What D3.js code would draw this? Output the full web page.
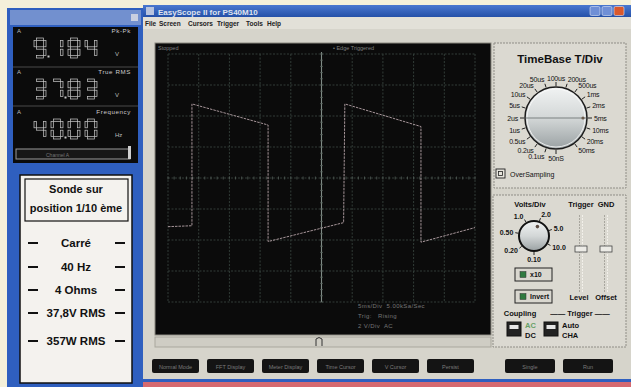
<!DOCTYPE html>
<html>
<head>
<meta charset="utf-8">
<script src="https://cdn.jsdelivr.net/npm/d3@7"></script>
<style>
	body { margin: 0; background: #f4f0da; }
	text { font-family: "Liberation Sans", Arial, sans-serif; }
</style>
</head>
<body>
<div id="scope"></div>
<script>
// waveform (5 ms/div, 2 V/div)
var traceTime = [0, 3.9, 3.9, 16.3, 16.3, 28.6, 28.8, 41.2, 41.2, 50];
var traceVolt = [-3.14, -3.08, 4.78, 3.42, -4.1, -2.88, 4.78, 3.32, -4.14, -3.2];

var meterNames = ["Pk-Pk", "True RMS", "Frequency"];
var meterValues = ["9.184", "37.83", "40.00"];
var meterUnits = ["V", "V", "Hz"];

var timebaseLabels = ["50nS", "0.1us", "0.2us", "0.5us", "1us", "2us", "5us", "10us", "20us", "50us",
	"100us", "200us", "500us", "1ms", "2ms", "5ms", "10ms", "20ms", "50ms"];
var timebaseValue = "5ms";
var voltsLabels = ["0.10", "0.20", "0.50", "1.0", "2.0", "5.0", "10.0"];
var voltsValue = "2.0";

var menuItems = ["File", "Screen", "Cursors", "Trigger", "Tools", "Help"];
var buttonLabels = ["Normal Mode", "FFT Display", "Meter Display", "Time Cursor", "V Cursor", "Persist", "Single", "Run"];
var noteTitle = ["Sonde sur", "position 1/10 ème"];
var noteLines = ["Carré", "40 Hz", "4 Ohms", "37,8V RMS", "357W RMS"];
var screenInfo = ["5ms/Div  5.00kSa/Sec", "Trig:   Rising", "2 V/Div  AC"];

function draw() {
	var width = 631
	var height = 387
	var blue = "#2f5fbf"
	var panel = "#d6d4cb"

	var svg = d3.select("#scope")
		.append("svg")
		.attr("width", width)
		.attr("height", height);

	var defs = svg.append("defs");
	var grad = defs.append("linearGradient")
		.attr("id", "knob")
		.attr("x1", 0).attr("y1", 0).attr("x2", 0).attr("y2", 1);
	grad.append("stop").attr("offset", "0%").attr("stop-color", "#f1f3f3");
	grad.append("stop").attr("offset", "50%").attr("stop-color", "#d3d7d7");
	grad.append("stop").attr("offset", "100%").attr("stop-color", "#9aa1a3");
	var tgrad = defs.append("linearGradient")
		.attr("id", "title")
		.attr("x1", 0).attr("y1", 0).attr("x2", 0).attr("y2", 1);
	tgrad.append("stop").attr("offset", "0%").attr("stop-color", "#4a78d0");
	tgrad.append("stop").attr("offset", "100%").attr("stop-color", "#2450a8");

	// ---------- left window ----------
	svg.append("rect").attr("x", 7).attr("y", 8).attr("width", 137).attr("height", 379).attr("fill", blue);
	svg.append("rect").attr("x", 10).attr("y", 10).attr("width", 131).attr("height", 15).attr("fill", "#7290cf");
	svg.append("rect").attr("x", 131).attr("y", 14).attr("width", 7).attr("height", 7).attr("fill", "#c9cfe0");

	// meter panel
	svg.append("rect").attr("x", 13).attr("y", 27).attr("width", 125).attr("height", 136).attr("fill", "#0b0b0b");
	svg.append("g").selectAll("line")
		.data([67, 106])
		.join("line")
		.attr("x1", 13).attr("x2", 138)
		.attr("y1", function (d) { return d; }).attr("y2", function (d) { return d; })
		.attr("stroke", "#4a4a4a");
	svg.append("rect").attr("x", 16).attr("y", 149).attr("width", 114).attr("height", 10)
		.attr("fill", "#161616").attr("stroke", "#9a9a9a").attr("stroke-width", 1);
	svg.append("rect").attr("x", 128).attr("y", 146).attr("width", 3).attr("height", 13).attr("fill", "#cfcfcf");
	svg.append("text").attr("x", 46).attr("y", 157).attr("font-size", 5).attr("fill", "#777").text("Channel A");

	var seg = 2.4
	var dw = 12
	var dh = 20
	var segBox = {
		a: [seg, 0, dw - 2 * seg, seg],
		b: [dw - seg, seg, seg, dh / 2 - 1.5 * seg],
		c: [dw - seg, dh / 2 + seg / 2, seg, dh / 2 - 1.5 * seg],
		d: [seg, dh - seg, dw - 2 * seg, seg],
		e: [0, dh / 2 + seg / 2, seg, dh / 2 - 1.5 * seg],
		f: [0, seg, seg, dh / 2 - 1.5 * seg],
		g: [seg, dh / 2 - seg / 2, dw - 2 * seg, seg]
	};
	var segMap = {
		"0": "abcdef", "1": "bc", "2": "abged", "3": "abgcd", "4": "fgbc",
		"5": "afgcd", "6": "afgedc", "7": "abc", "8": "abcdefg", "9": "abcdfg"
	};
	var rowTop = [38, 79, 119];

	meterNames.forEach(function (name, r) {
		var top = rowTop[r];
		var row = svg.append("g");
		row.append("text").attr("x", 17).attr("y", top - 5).attr("font-size", 6).attr("fill", "#bbb").text("A");
		row.append("text").attr("x", 131).attr("y", top - 5).attr("font-size", 6.2)
			.attr("text-anchor", "end").attr("letter-spacing", 0.6).attr("fill", "#ccc").text(name);
		row.append("text").attr("x", 115).attr("y", top + 18).attr("font-size", 6).attr("fill", "#bbb").text(meterUnits[r]);

		var digits = [];
		meterValues[r].split("").forEach(function (ch) {
			if (ch == ".") { digits[digits.length - 1].dot = true; }
			else { digits.push({ ch: ch, dot: false }); }
		});
		digits.forEach(function (d, i) {
			var gx = 34 + i * 17;
			var dg = row.append("g").attr("transform", "translate(" + gx + "," + top + ")");
			dg.selectAll("rect")
				.data(segMap[d.ch].split(""))
				.join("rect")
				.attr("x", function (s) { return segBox[s][0]; })
				.attr("y", function (s) { return segBox[s][1]; })
				.attr("width", function (s) { return segBox[s][2]; })
				.attr("height", function (s) { return segBox[s][3]; })
				.attr("fill", "#151515")
				.attr("stroke", "#c9c9c9")
				.attr("stroke-width", 0.7);
			if (d.dot) {
				dg.append("rect").attr("x", dw + 1.5).attr("y", dh - 2.5).attr("width", 2).attr("height", 2)
					.attr("fill", "#c9c9c9");
			}
		});
	});

	// note card
	svg.append("rect").attr("x", 20).attr("y", 175).attr("width", 112).attr("height", 208)
		.attr("fill", "#f4f2ee").attr("stroke", "#111").attr("stroke-width", 1.5);
	svg.append("rect").attr("x", 25).attr("y", 179).attr("width", 103).attr("height", 42)
		.attr("fill", "none").attr("stroke", "#111").attr("stroke-width", 1.2);
	svg.append("g").selectAll("text")
		.data(noteTitle)
		.join("text")
		.attr("x", 76).attr("y", function (d, i) { return 193 + i * 19; })
		.attr("text-anchor", "middle").attr("font-size", 11).attr("font-weight", "bold").attr("fill", "#111")
		.text(function (d) { return d; });
	var noteY = [247, 271, 294, 317, 345];
	var notes = svg.append("g").selectAll("g")
		.data(noteLines)
		.join("g")
		.attr("transform", function (d, i) { return "translate(0," + noteY[i] + ")"; });
	notes.append("text")
		.attr("x", 76).attr("text-anchor", "middle").attr("font-size", 11.5).attr("font-weight", "bold").attr("fill", "#111")
		.text(function (d) { return d; });
	notes.append("line").attr("x1", 28).attr("x2", 38).attr("y1", -4).attr("y2", -4).attr("stroke", "#111").attr("stroke-width", 2);
	notes.append("line").attr("x1", 115).attr("x2", 125).attr("y1", -4).attr("y2", -4).attr("stroke", "#111").attr("stroke-width", 2);

	// ---------- main window ----------
	svg.append("rect").attr("x", 143).attr("y", 5).attr("width", 488).attr("height", 375).attr("fill", panel);
	svg.append("rect").attr("x", 143).attr("y", 5).attr("width", 488).attr("height", 12).attr("fill", "url(#title)");
	svg.append("rect").attr("x", 146).attr("y", 7).attr("width", 8).attr("height", 8).attr("fill", "#b8c4de");
	svg.append("text").attr("x", 158).attr("y", 14.5).attr("font-size", 8).attr("font-weight", "bold")
		.attr("fill", "#dfe2ee").text("EasyScope II for PS40M10");
	svg.append("g").selectAll("rect")
		.data([590, 602, 614])
		.join("rect")
		.attr("x", function (d) { return d; }).attr("y", 6.5).attr("width", 10).attr("height", 9).attr("rx", 1.5)
		.attr("fill", function (d, i) { return i == 2 ? "#d9582c" : "#6f8fd6"; })
		.attr("stroke", "#dfe6f5").attr("stroke-width", 0.6);
	svg.append("rect").attr("x", 143).attr("y", 17).attr("width", 488).attr("height", 12).attr("fill", "#e2e0d8");
	var menuX = [145, 159, 188, 217, 246, 267];
	svg.append("g").selectAll("text")
		.data(menuItems)
		.join("text")
		.attr("x", function (d, i) { return menuX[i]; }).attr("y", 26)
		.attr("font-size", 6.5).attr("font-weight", "bold").attr("fill", "#222")
		.text(function (d) { return d; });

	// scope screen
	svg.append("rect").attr("x", 155).attr("y", 43).attr("width", 336).attr("height", 292)
		.attr("fill", "#0b0b0b").attr("stroke", "#8a8880").attr("stroke-width", 1);

	var x = d3.scaleLinear().domain([0, 50]).range([168, 475]);
	var y = d3.scaleLinear().domain([-8, 8]).range([302, 54]);

	var grid = svg.append("g").attr("stroke", "#36423c").attr("stroke-width", 0.9).attr("stroke-dasharray", "2,1.5");
	grid.selectAll(".vx")
		.data(x.ticks(10))
		.join("line")
		.attr("x1", function (d) { return x(d); }).attr("x2", function (d) { return x(d); })
		.attr("y1", y(8)).attr("y2", y(-8));
	grid.selectAll(".hy")
		.data(y.ticks(8))
		.join("line")
		.attr("class", "hy")
		.attr("y1", function (d) { return y(d); }).attr("y2", function (d) { return y(d); })
		.attr("x1", x(0)).attr("x2", x(50));
	// centre cross with minor ticks
	svg.append("line").attr("x1", x(25)).attr("x2", x(25)).attr("y1", y(8) - 2).attr("y2", y(-8))
		.attr("stroke", "#7f8a85").attr("stroke-width", 1.1);
	svg.append("g").selectAll("line")
		.data(d3.range(0, 50.01, 1))
		.join("line")
		.attr("x1", function (d) { return x(d); }).attr("x2", function (d) { return x(d); })
		.attr("y1", y(0) - 1.5).attr("y2", y(0) + 1.5)
		.attr("stroke", "#55615b").attr("stroke-width", 0.8);
	svg.append("g").selectAll("line")
		.data(d3.range(-8, 8.01, 0.4))
		.join("line")
		.attr("y1", function (d) { return y(d); }).attr("y2", function (d) { return y(d); })
		.attr("x1", x(25) - 1.5).attr("x2", x(25) + 1.5)
		.attr("stroke", "#55615b").attr("stroke-width", 0.8);

	svg.append("path")
		.datum(d3.zip(traceTime, traceVolt))
		.attr("fill", "none")
		.attr("stroke", "#b7a4a8")
		.attr("stroke-width", 0.9)
		.attr("stroke-dasharray", "2.5,1")
		.attr("d", d3.line()
			.x(function (d) { return x(d[0]) })
			.y(function (d) { return y(d[1]) })
		);

	svg.append("text").attr("x", 158).attr("y", 50).attr("font-size", 5.5).attr("fill", "#808080").text("Stopped");
	svg.append("text").attr("x", 333).attr("y", 50).attr("font-size", 5.5).attr("fill", "#808080").text("• Edge Triggered");
	svg.append("g").selectAll("text")
		.data(screenInfo)
		.join("text")
		.attr("x", 358).attr("y", function (d, i) { return 308 + i * 10; })
		.attr("font-size", 6).attr("letter-spacing", 0.4).attr("fill", "#767676")
		.attr("xml:space", "preserve")
		.text(function (d) { return d; });

	// scroll bar
	svg.append("rect").attr("x", 155).attr("y", 337).attr("width", 336).attr("height", 10)
		.attr("fill", "#cfcdc4").attr("stroke", "#a9a79e");
	svg.append("path").attr("d", "M316,346 L316,339 Q319,336 322,339 L322,346")
		.attr("fill", "none").attr("stroke", "#333").attr("stroke-width", 1);

	// buttons
	svg.append("g").selectAll("g")
		.data(buttonLabels)
		.join("g")
		.attr("transform", function (d, i) {
			var bx = i < 6 ? 152 + i * 55 : 505 + (i - 6) * 58;
			return "translate(" + bx + ",359)";
		})
		.call(function (g) {
			g.append("rect").attr("width", function (d, i) { return i < 6 ? 47 : 50; }).attr("height", 14)
				.attr("rx", 2).attr("fill", "#141414");
			g.append("text").attr("x", function (d, i) { return i < 6 ? 23.5 : 25; }).attr("y", 9.5)
				.attr("text-anchor", "middle").attr("font-size", 5.5).attr("fill", "#7a7a7a")
				.text(function (d) { return d; });
		});

	// bottom stripe
	svg.append("rect").attr("x", 143).attr("y", 379).attr("width", 488).attr("height", 3).attr("fill", blue);
	svg.append("rect").attr("x", 143).attr("y", 382).attr("width", 488).attr("height", 5).attr("fill", "#d66a70");

	// ---------- timebase panel ----------
	svg.append("rect").attr("x", 494).attr("y", 43).attr("width", 132).attr("height", 145)
		.attr("fill", "#dbd9d1").attr("stroke", "#8f8d86").attr("stroke-dasharray", "2,1");
	svg.append("text").attr("x", 560).attr("y", 63).attr("text-anchor", "middle")
		.attr("font-size", 11.5).attr("font-weight", "bold").attr("fill", "#111").text("TimeBase T/Div");

	var cx = 556
	var cy = 118
	var kr = 31
	var tbAngle = d3.scaleLinear().domain([0, timebaseLabels.length - 1]).range([-180, 144]);
	var tb = svg.append("g");
	tb.selectAll("line")
		.data(timebaseLabels)
		.join("line")
		.each(function (d, i) {
			var a = tbAngle(i) * Math.PI / 180;
			d3.select(this)
				.attr("x1", cx + (kr + 1) * Math.sin(a)).attr("y1", cy - (kr + 1) * Math.cos(a))
				.attr("x2", cx + (kr + 5) * Math.sin(a)).attr("y2", cy - (kr + 5) * Math.cos(a));
		})
		.attr("stroke", "#222").attr("stroke-width", 1);
	tb.selectAll("text")
		.data(timebaseLabels)
		.join("text")
		.each(function (d, i) {
			var a = tbAngle(i) * Math.PI / 180;
			var s = Math.sin(a);
			d3.select(this)
				.attr("x", cx + (kr + 7) * s)
				.attr("y", cy - (kr + 9) * Math.cos(a) + 2.5)
				.attr("text-anchor", s > 0.3 ? "start" : (s < -0.3 ? "end" : "middle"));
		})
		.attr("font-size", 7).attr("letter-spacing", -0.2).attr("fill", "#111")
		.text(function (d) { return d; });
	tb.append("circle").attr("cx", cx).attr("cy", cy).attr("r", kr)
		.attr("fill", "url(#knob)").attr("stroke", "#1b1b1b").attr("stroke-width", 1.5);
	tb.append("circle").attr("cx", cx).attr("cy", cy).attr("r", kr - 2)
		.attr("fill", "none").attr("stroke", "#fbfbfb").attr("stroke-width", 0.8);
	var tbA = tbAngle(timebaseLabels.indexOf(timebaseValue)) * Math.PI / 180;
	tb.append("line")
		.attr("x1", cx - (kr - 1) * Math.sin(tbA)).attr("y1", cy + (kr - 1) * Math.cos(tbA))
		.attr("x2", cx + (kr - 1) * Math.sin(tbA)).attr("y2", cy - (kr - 1) * Math.cos(tbA))
		.attr("stroke", "#7b8080").attr("stroke-width", 1);
	tb.append("circle")
		.attr("cx", cx + (kr - 4) * Math.sin(tbA)).attr("cy", cy - (kr - 4) * Math.cos(tbA)).attr("r", 1.6)
		.attr("fill", "#6b5a4a");

	svg.append("rect").attr("x", 496).attr("y", 169).attr("width", 9).attr("height", 9)
		.attr("fill", "#e6e4dc").attr("stroke", "#222").attr("stroke-width", 0.9);
	svg.append("rect").attr("x", 498.5).attr("y", 171.5).attr("width", 4).attr("height", 4)
		.attr("fill", "none").attr("stroke", "#222").attr("stroke-width", 0.8);
	svg.append("text").attr("x", 510).attr("y", 176.5).attr("font-size", 7).attr("fill", "#111").text("OverSampling");

	// ---------- channel panel ----------
	svg.append("rect").attr("x", 493).attr("y", 195).attr("width", 133).attr("height", 152)
		.attr("fill", "#dbd9d1").attr("stroke", "#8f8d86").attr("stroke-dasharray", "2,1");
	var heads = [["Volts/Div", 530, 207], ["Trigger", 581, 207], ["GND", 606, 207], ["Level", 579, 300], ["Offset", 606, 300],
		["Coupling", 520, 316]];
	svg.append("g").selectAll("text")
		.data(heads)
		.join("text")
		.attr("x", function (d) { return d[1]; }).attr("y", function (d) { return d[2]; })
		.attr("text-anchor", "middle").attr("font-size", 7.5).attr("font-weight", "bold").attr("fill", "#111")
		.text(function (d) { return d[0]; });
	svg.append("text").attr("x", 580).attr("y", 316).attr("text-anchor", "middle").attr("font-size", 7.5)
		.attr("font-weight", "bold").attr("fill", "#111").text("—— Trigger ——");

	var vx = 534
	var vy = 236
	var vr = 15
	var vAngle = d3.scaleLinear().domain([0, voltsLabels.length - 1]).range([-180, 120]);
	var vk = svg.append("g");
	vk.selectAll("line")
		.data(voltsLabels)
		.join("line")
		.each(function (d, i) {
			var a = vAngle(i) * Math.PI / 180;
			d3.select(this)
				.attr("x1", vx + (vr + 1) * Math.sin(a)).attr("y1", vy - (vr + 1) * Math.cos(a))
				.attr("x2", vx + (vr + 4) * Math.sin(a)).attr("y2", vy - (vr + 4) * Math.cos(a));
		})
		.attr("stroke", "#222").attr("stroke-width", 1);
	vk.selectAll("text")
		.data(voltsLabels)
		.join("text")
		.each(function (d, i) {
			var a = vAngle(i) * Math.PI / 180;
			var s = Math.sin(a);
			d3.select(this)
				.attr("x", vx + (vr + 6) * s)
				.attr("y", vy - (vr + 8) * Math.cos(a) + 2.5)
				.attr("text-anchor", s > 0.3 ? "start" : (s < -0.3 ? "end" : "middle"));
		})
		.attr("font-size", 7).attr("font-weight", "bold").attr("fill", "#111")
		.text(function (d) { return d; });
	vk.append("circle").attr("cx", vx).attr("cy", vy).attr("r", vr)
		.attr("fill", "url(#knob)").attr("stroke", "#111").attr("stroke-width", 2);
	var vA = vAngle(voltsLabels.indexOf(voltsValue)) * Math.PI / 180;
	vk.append("circle")
		.attr("cx", vx + (vr - 5) * Math.sin(vA)).attr("cy", vy - (vr - 5) * Math.cos(vA)).attr("r", 1.8)
		.attr("fill", "#5d4c42");

	// sliders
	[581, 606].forEach(function (sx) {
		svg.append("line").attr("x1", sx - 1.5).attr("x2", sx - 1.5).attr("y1", 215).attr("y2", 292)
			.attr("stroke", "#a8a69e").attr("stroke-dasharray", "2,1");
		svg.append("line").attr("x1", sx + 1.5).attr("x2", sx + 1.5).attr("y1", 215).attr("y2", 292)
			.attr("stroke", "#f2f0ea").attr("stroke-dasharray", "2,1");
		svg.append("rect").attr("x", sx - 6).attr("y", 246).attr("width", 12).attr("height", 6)
			.attr("fill", "#ecebe6").attr("stroke", "#444").attr("stroke-width", 0.8);
	});

	// x10 / Invert buttons
	[["x10", 268], ["Invert", 290]].forEach(function (b) {
		svg.append("rect").attr("x", 515).attr("y", b[1]).attr("width", 37).attr("height", 13)
			.attr("fill", "#d9d7cf").attr("stroke", "#222").attr("stroke-width", 1);
		svg.append("rect").attr("x", 520).attr("y", b[1] + 3.5).attr("width", 6).attr("height", 6)
			.attr("fill", "#2f7a40").attr("stroke", "#333").attr("stroke-width", 0.5);
		svg.append("text").attr("x", 530).attr("y", b[1] + 9).attr("font-size", 7).attr("font-weight", "bold")
			.attr("fill", "#111").text(b[0]);
	});

	// coupling / trigger switches
	[[507, "AC", "DC"], [544, "Auto", "CHA"]].forEach(function (s) {
		svg.append("rect").attr("x", s[0]).attr("y", 322).attr("width", 14).attr("height", 14)
			.attr("fill", "#222").attr("stroke", "#111");
		svg.append("rect").attr("x", s[0] + 2.5).attr("y", 325).attr("width", 9).attr("height", 4)
			.attr("fill", "#e6e6e6");
		svg.append("text").attr("x", s[0] + 18).attr("y", 328).attr("font-size", 7.5).attr("font-weight", "bold")
			.attr("fill", s[1] == "AC" ? "#66a066" : "#111").text(s[1]);
		svg.append("text").attr("x", s[0] + 18).attr("y", 338).attr("font-size", 7.5).attr("font-weight", "bold")
			.attr("fill", "#111").text(s[2]);
	});
}

draw();
</script>
</body>
</html>
